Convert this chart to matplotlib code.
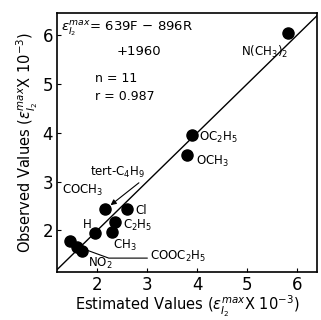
import matplotlib
matplotlib.use("Agg")
import matplotlib.pyplot as plt
import numpy as np

# Data
substituents = ["N(CH$_3$)$_2$", "OC$_2$H$_5$", "OCH$_3$", "Cl", "tert-C$_4$H$_9$",
                "C$_2$H$_5$", "CH$_3$", "H", "COCH$_3$", "COOC$_2$H$_5$", "NO$_2$"]
estimated = [5.82, 3.90, 3.80, 2.60, 2.16, 2.36, 2.30, 1.96, 1.46, 1.60, 1.70]
observed = [6.04, 3.95, 3.54, 2.45, 2.43, 2.18, 1.96, 1.94, 1.79, 1.67, 1.59]
x_ticks = [2, 3, 4, 5, 6]
y_ticks = [2, 3, 4, 5, 6]

# label placement (pixel offsets from the point)
label_offsets = [(-47, -19), (7, -2), (9, -6), (8, -2), (-15, 37),
                 (8, -4), (1, -13), (-12, 9), (-8, 50), (73, -10), (6, -13)]

plt.rcParams['font.family'] = ['DejaVu Sans']
plt.rcParams['mathtext.fontset'] = 'dejavusans'

fig = plt.figure(figsize=(3.21, 3.20), dpi=100)
ax = fig.add_axes([0.178, 0.15, 0.81, 0.809])
ax.set_xlim(1.2, 6.4)
ax.set_ylim(1.15, 6.45)

ax.plot([1.0, 6.6], [1.0, 6.6], color='black', lw=1.0, zorder=1)
ax.plot(estimated, observed, 'o', color='black', ms=8, zorder=3)

for name, x, y, off in zip(substituents, estimated, observed, label_offsets):
    if name.startswith("tert"):
        ax.annotate(name, (x, y), xytext=off, textcoords='offset pixels',
                    fontsize=8.5, ha='left', va='center',
                    arrowprops=dict(arrowstyle='-|>', color='black', lw=0.8,
                                    shrinkA=0, shrinkB=5, mutation_scale=8,
                                    relpos=(0.95, 0.0)))
    elif name.startswith("COOC"):
        ax.annotate(name, (x, y), xytext=off, textcoords='offset pixels',
                    fontsize=8.5, ha='left', va='center',
                    arrowprops=dict(arrowstyle='-', color='black', lw=0.8,
                                    shrinkA=0, shrinkB=3,
                                    connectionstyle='angle,angleA=0,angleB=-20,rad=0',
                                    relpos=(0.0, 0.4)))
    else:
        ax.annotate(name, (x, y), xytext=off, textcoords='offset pixels',
                    fontsize=8.5, ha='left', va='center')

ax.text(0.015, 0.94, r"$\epsilon^{max}_{I_2}$= 639F $-$ 896R", transform=ax.transAxes,
        fontsize=9.5, ha='left', va='center')
ax.text(0.23, 0.85, "+1960", transform=ax.transAxes, fontsize=9.5, ha='left', va='center')
ax.text(0.145, 0.749, "n = 11", transform=ax.transAxes, fontsize=9, ha='left', va='center')
ax.text(0.145, 0.676, "r = 0.987", transform=ax.transAxes, fontsize=9, ha='left', va='center')

ax.set_xticks(x_ticks)
ax.set_yticks(y_ticks)
ax.tick_params(direction='in', length=3, labelsize=12, width=0.8, pad=3)
for s in ax.spines.values():
    s.set_linewidth(1.2)

ax.set_xlabel(r"Estimated Values ($\epsilon^{max}_{I_2}$X 10$^{-3}$)", fontsize=10.5, labelpad=0)
ax.set_ylabel(r"Observed Values ($\epsilon^{max}_{I_2}$X 10$^{-3}$)", fontsize=10.5, labelpad=2)

fig.savefig("out.png", dpi=100)
